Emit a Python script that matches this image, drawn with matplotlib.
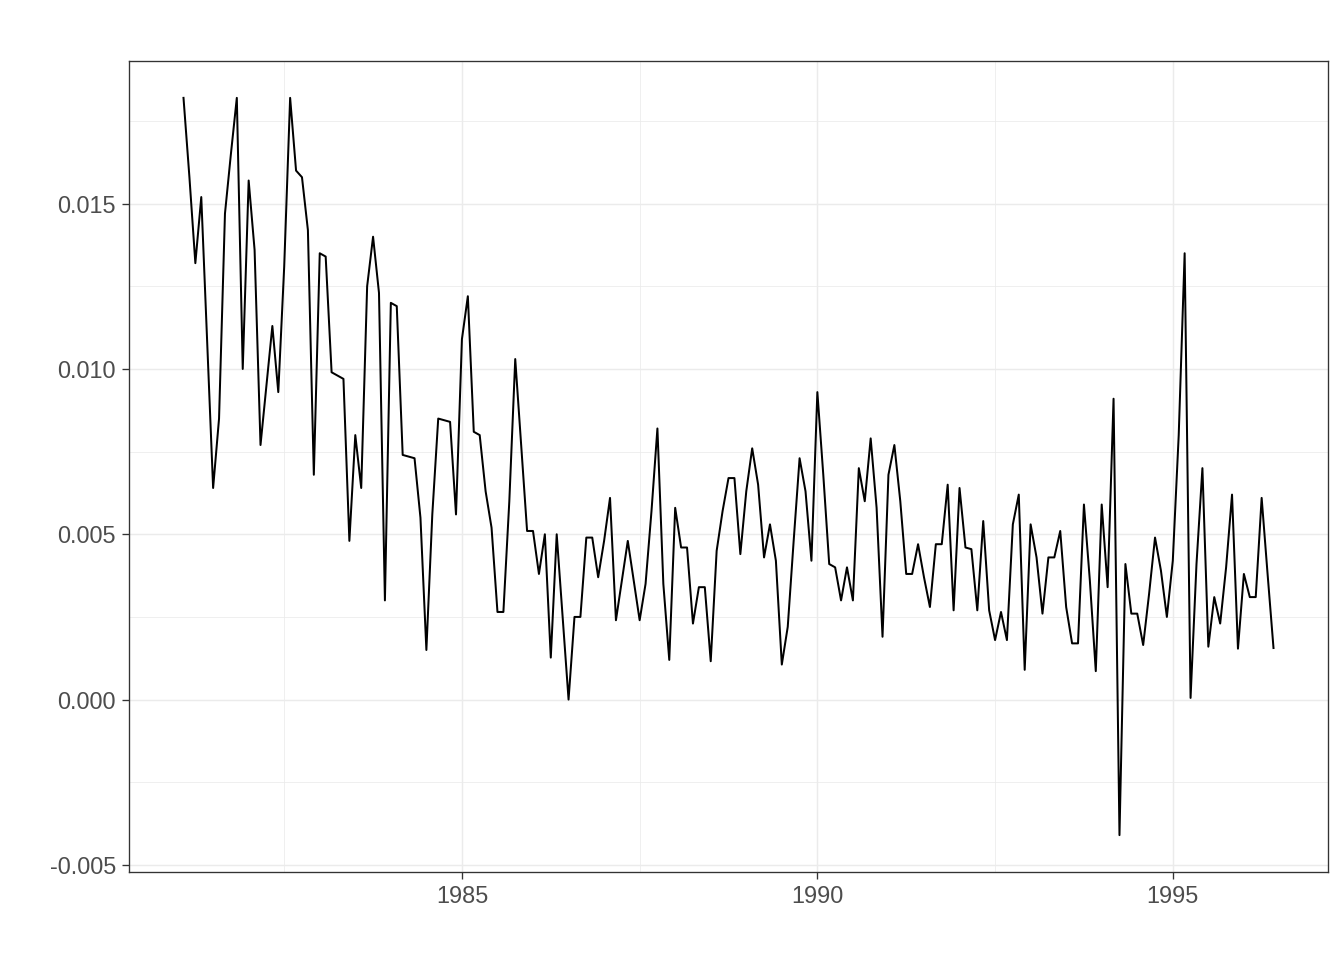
import matplotlib
matplotlib.use("Agg")
import matplotlib.pyplot as plt
import numpy as np
from matplotlib.ticker import FixedLocator, FixedFormatter

start_year = 1981
start_month = 2  # monthly series starting Feb 1981

values = [
    0.0182, 0.0158, 0.0132, 0.0152, 0.0108, 0.0064, 0.0085, 0.0147, 0.0165, 0.0182,
    0.0100, 0.0157, 0.0136, 0.0077, 0.0095, 0.0113, 0.0093, 0.0131, 0.0182, 0.0160,
    0.0158, 0.0142, 0.0068, 0.0135, 0.0134, 0.0099, 0.0098, 0.0097, 0.0048, 0.0080,
    0.0064, 0.0125, 0.0140, 0.0123, 0.0030, 0.0120, 0.0119, 0.0074, 0.00735, 0.0073,
    0.0055, 0.0015, 0.0056, 0.0085, 0.00845, 0.0084, 0.0056, 0.0109, 0.0122, 0.0081,
    0.0080, 0.0063, 0.0052, 0.00265, 0.00265, 0.0060, 0.0103, 0.0077, 0.0051, 0.0051,
    0.0038, 0.0050, 0.00127, 0.0050, 0.0025, 0.0000, 0.0025, 0.0025, 0.0049, 0.0049,
    0.0037, 0.0048, 0.0061, 0.0024, 0.0036, 0.0048, 0.0036, 0.0024, 0.0035, 0.0057,
    0.0082, 0.0035, 0.0012, 0.0058, 0.0046, 0.0046, 0.0023, 0.0034, 0.0034, 0.00116,
    0.0045, 0.0057, 0.0067, 0.0067, 0.0044, 0.0063, 0.0076, 0.0065, 0.0043, 0.0053,
    0.0042, 0.00106, 0.0022, 0.0048, 0.0073, 0.0063, 0.0042, 0.0093, 0.0068, 0.0041,
    0.0040, 0.0030, 0.0040, 0.0030, 0.0070, 0.0060, 0.0079, 0.0058, 0.0019, 0.0068,
    0.0077, 0.0060, 0.0038, 0.0038, 0.0047, 0.0037, 0.0028, 0.0047, 0.0047, 0.0065,
    0.0027, 0.0064, 0.0046, 0.00455, 0.0027, 0.0054, 0.0027, 0.0018, 0.00265, 0.0018,
    0.0053, 0.0062, 0.0009, 0.0053, 0.0043, 0.0026, 0.0043, 0.0043, 0.0051, 0.0028,
    0.0017, 0.0017, 0.0059, 0.0036, 0.00086, 0.0059, 0.0034, 0.0091, -0.0041, 0.0041,
    0.0026, 0.0026, 0.00165, 0.0032, 0.0049, 0.0039, 0.0025, 0.0042, 0.0080, 0.0135,
    0.00005, 0.0041, 0.0070, 0.0016, 0.0031, 0.0023, 0.0040, 0.0062, 0.00154, 0.0038,
    0.0031, 0.0031, 0.0061, 0.0038, 0.00156,
]

x_ticks = [1985, 1990, 1995]
x_tick_labels = ["1985", "1990", "1995"]
x_minor = [1982.5, 1987.5, 1992.5]
y_ticks = [-0.005, 0.000, 0.005, 0.010, 0.015]
y_tick_labels = ["-0.005", "0.000", "0.005", "0.010", "0.015"]
y_minor = [-0.0025, 0.0025, 0.0075, 0.0125, 0.0175]

t = start_year + (start_month - 1) / 12 + np.arange(len(values)) / 12.0
v = np.array(values)

plt.rcParams['font.family'] = ['Liberation Sans', 'DejaVu Sans']

fig = plt.figure(figsize=(7, 5), dpi=192)
ax = fig.add_axes([129/1344, 1 - 872/960, (1328-129)/1344, (872-61)/960])

grid_col = "#EBEBEB"
for xm in x_minor:
    ax.axvline(xm, color=grid_col, lw=0.3, zorder=0)
for ym in y_minor:
    ax.axhline(ym, color=grid_col, lw=0.3, zorder=0)
for xt in x_ticks:
    ax.axvline(xt, color=grid_col, lw=0.55, zorder=0)
for yt in y_ticks:
    ax.axhline(yt, color=grid_col, lw=0.55, zorder=0)

ax.plot(t, v, color="black", lw=0.75, zorder=3)

xr = t[-1] - t[0]
ax.set_xlim(t[0] - 0.05 * xr, t[-1] + 0.05 * xr)
yr = v.max() - v.min()
ax.set_ylim(v.min() - 0.05 * yr, v.max() + 0.05 * yr)

ax.xaxis.set_major_locator(FixedLocator(x_ticks))
ax.xaxis.set_major_formatter(FixedFormatter(x_tick_labels))
ax.yaxis.set_major_locator(FixedLocator(y_ticks))
ax.yaxis.set_major_formatter(FixedFormatter(y_tick_labels))
ax.minorticks_off()

for s in ax.spines.values():
    s.set_color("#333333")
    s.set_linewidth(0.5)

ax.tick_params(axis='both', which='major', length=2.75, width=0.5, color="#333333",
               labelsize=8.8, labelcolor="#4D4D4D", pad=2.2)

fig.savefig("out.png", dpi=192, facecolor="white")
